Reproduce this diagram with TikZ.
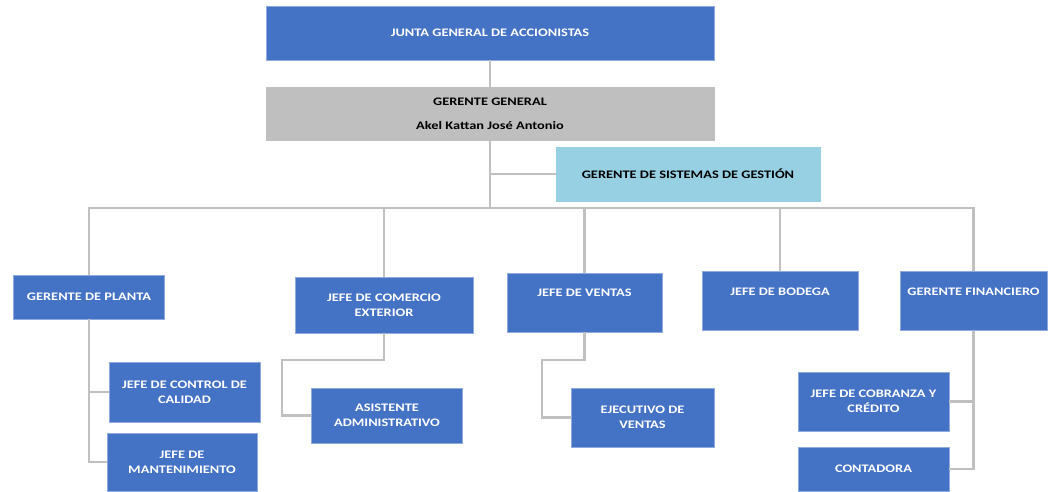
\documentclass[tikz,border=0pt]{standalone}
\usepackage{fontspec}
\setmainfont{Carlito}
\newfontfamily\orgfont[FakeStretch=1.25]{Carlito}
\definecolor{boxblue}{RGB}{68,114,196}
\definecolor{boxedge}{RGB}{143,170,220}
\definecolor{boxgray}{RGB}{191,191,191}
\definecolor{boxsky}{RGB}{150,208,226}
\definecolor{linegray}{RGB}{192,192,192}

\begin{document}
\begin{tikzpicture}[x=1pt,y=-1pt,
    unit/.style={fill=boxblue,draw=boxedge,line width=0.6pt,text=white,inner sep=0pt,
      align=center,font=\orgfont\bfseries\fontsize{11.5}{15}\selectfont},
    link/.style={draw=linegray,line width=2.2pt}]
  \useasboundingbox (0,0) rectangle (1053,491);
  % top of the chart
  \node[unit,minimum width=448,minimum height=54] (junta) at (490,33) {JUNTA GENERAL DE ACCIONISTAS};
  \node[unit,fill=boxgray,draw=boxgray,text=black,minimum width=448,minimum height=53] (gerente) at (490,113.5)
    {GERENTE GENERAL\\[9pt]Akel Kattan José Antonio};
  \node[unit,fill=boxsky,draw=boxsky,text=black,minimum width=264,minimum height=54] (sistemas) at (688,174)
    {GERENTE DE SISTEMAS DE GESTIÓN};
  \coordinate (bus) at (490,208);
  % second level
  \node[unit,minimum width=151,minimum height=44] (planta) at (89,297) {GERENTE DE PLANTA};
  \node[unit,minimum width=178,minimum height=56] (comercio) at (384,305) {JEFE DE COMERCIO\\EXTERIOR};
  \node[unit,minimum width=155,minimum height=59] (ventas) at (584.5,302.5) {JEFE DE VENTAS\\\strut};
  \node[unit,minimum width=156,minimum height=59] (bodega) at (780,301) {JEFE DE BODEGA\\\strut};
  \node[unit,minimum width=147,minimum height=59] (financiero) at (973.5,301) {GERENTE FINANCIERO\\\strut};
  % third level
  \node[unit,minimum width=151,minimum height=60] (calidad) at (184.5,392) {JEFE DE CONTROL DE\\CALIDAD};
  \node[unit,minimum width=150,minimum height=58] (mantenimiento) at (182,462) {JEFE DE\\MANTENIMIENTO};
  \node[unit,minimum width=151,minimum height=55] (asistente) at (387,415.5) {ASISTENTE\\ADMINISTRATIVO};
  \node[unit,minimum width=143,minimum height=59] (ejecutivo) at (642.5,417.5) {EJECUTIVO DE\\VENTAS};
  \node[unit,minimum width=151,minimum height=59] (cobranza) at (873.5,401.5) {JEFE DE COBRANZA Y\\CRÉDITO};
  \node[unit,minimum width=151,minimum height=44] (contadora) at (873.5,469) {CONTADORA};
  \coordinate (comercioturn) at (282,360);
  \coordinate (ventasturn) at (542,360);

  % connectors
  \draw[link] (junta.south) -- (gerente.north);
  \draw[link] (gerente.south) -- (bus);
  \draw[link] (gerente.south |- sistemas.west) -- (sistemas.west);
  \draw[link] (planta.north) |- (financiero.north |- bus) -- (financiero.north);
  \foreach \n in {comercio,ventas,bodega}
    \draw[link] (\n.north) -- (\n.north |- bus);
  \draw[link] (planta.south) |- (mantenimiento.west);
  \draw[link] (planta.south |- calidad.west) -- (calidad.west);
  \draw[link] (comercio.south) |- (comercioturn) |- (asistente.west);
  \draw[link] (ventas.south) |- (ventasturn) |- (ejecutivo.west);
  \draw[link] (financiero.south) |- (contadora.east);
  \draw[link] (financiero.south |- cobranza.east) -- (cobranza.east);
\end{tikzpicture}
\end{document}
